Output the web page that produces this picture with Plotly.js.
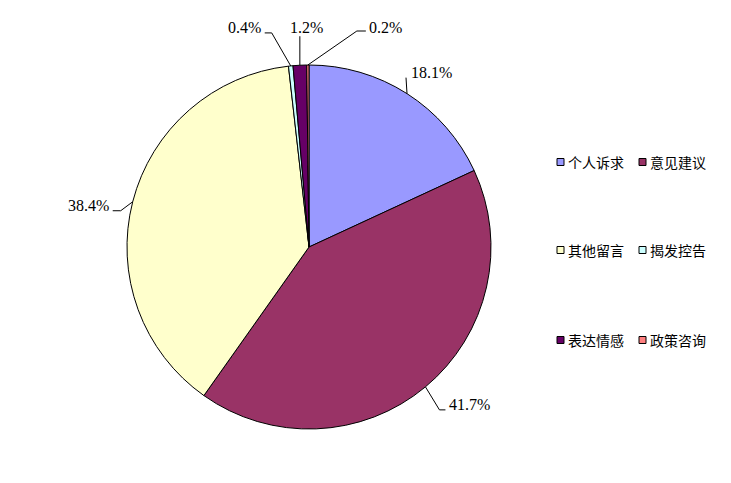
<!DOCTYPE html>
<html>
<head>
<meta charset="utf-8">
<script src="https://cdn.plot.ly/plotly-3.0.1.min.js"></script>
<style>html,body{margin:0;padding:0;background:#fff;}#chart{width:731px;height:483px;}</style>
</head>
<body>
<div id="chart"></div>
<script>
// ---- data ----
const categories = ['个人诉求', '意见建议', '其他留言', '揭发控告', '表达情感', '政策咨询'];
const shares = [18.1, 41.7, 38.4, 0.4, 1.2, 0.2];
const shareLabels = ['18.1%', '41.7%', '38.4%', '0.4%', '1.2%', '0.2%'];
const sliceColors = ['#9999FF', '#993366', '#FFFFCC', '#CCFFFF', '#660066', '#FF8080'];

// ---- geometry / style ----
const W = 731, H = 483;
const cx = 309, cy = 247, R = 182;
const px = x => x / W;
const py = y => 1 - y / H;

// leader line styling relative to slice edge point: elbow points and label offset
const leaderStyle = [
  {pts: [[-1, -16]], lab: [2, -21], anchor: 'left'},
  {pts: [[14, 23], [20, 23]], lab: [22, 18], anchor: 'left'},
  {pts: [[-12, 9], [-20, 9]], lab: [-22, 4], anchor: 'right'},
  {pts: [[-19, -33], [-26, -33]], lab: [-28, -38], anchor: 'right'},
  {pts: [[0, -29]], lab: [7, -38], anchor: 'center'},
  {pts: [[49, -34], [58, -34]], lab: [59, -38], anchor: 'left'}
];

const total = shares.reduce((a, b) => a + b, 0);
const shapes = [];
const annotations = [];
let cum = 0;
shares.forEach((v, i) => {
  const mid = (cum + v / 2) / total * 2 * Math.PI;
  cum += v;
  const ex = cx + R * Math.sin(mid);
  const ey = cy - R * Math.cos(mid);
  const st = leaderStyle[i];
  let path = `M ${px(ex)} ${py(ey)}`;
  st.pts.forEach(p => { path += ` L ${px(ex + p[0])} ${py(ey + p[1])}`; });
  shapes.push({type: 'path', xref: 'paper', yref: 'paper', path: path,
    line: {color: '#000', width: 1}});
  annotations.push({xref: 'paper', yref: 'paper', x: px(ex + st.lab[0]), y: py(ey + st.lab[1]),
    xanchor: st.anchor, yanchor: 'middle', showarrow: false, text: shareLabels[i],
    font: {family: 'Liberation Serif, Times New Roman, serif', size: 16, color: '#000'}});
});

// legend (two columns, three rows)
const legCols = [557, 639];
const legRows = [162, 250, 340];
categories.forEach((c, i) => {
  const lx = legCols[i % 2], ly = legRows[Math.floor(i / 2)];
  shapes.push({type: 'rect', xref: 'paper', yref: 'paper',
    x0: px(lx), x1: px(lx + 7), y0: py(ly - 3.5), y1: py(ly + 3.5),
    fillcolor: sliceColors[i], line: {color: '#000', width: 1}});
  annotations.push({xref: 'paper', yref: 'paper', x: px(lx + 9), y: py(ly),
    xanchor: 'left', yanchor: 'middle', showarrow: false, text: c,
    font: {family: 'Noto Sans CJK SC, sans-serif', size: 14, color: '#000'}});
});

const trace = {
  type: 'pie',
  labels: categories,
  values: shares,
  sort: false,
  direction: 'clockwise',
  rotation: 0,
  textinfo: 'none',
  hoverinfo: 'label+percent',
  marker: {colors: sliceColors, line: {color: '#000', width: 1}},
  domain: {x: [px(cx - R), px(cx + R)], y: [py(cy + R), py(cy - R)]},
  showlegend: false
};

const layout = {
  width: W, height: H,
  margin: {l: 0, r: 0, t: 0, b: 0},
  paper_bgcolor: '#fff',
  showlegend: false,
  shapes: shapes,
  annotations: annotations
};

Plotly.newPlot('chart', [trace], layout, {staticPlot: true, displayModeBar: false});
</script>
</body>
</html>
